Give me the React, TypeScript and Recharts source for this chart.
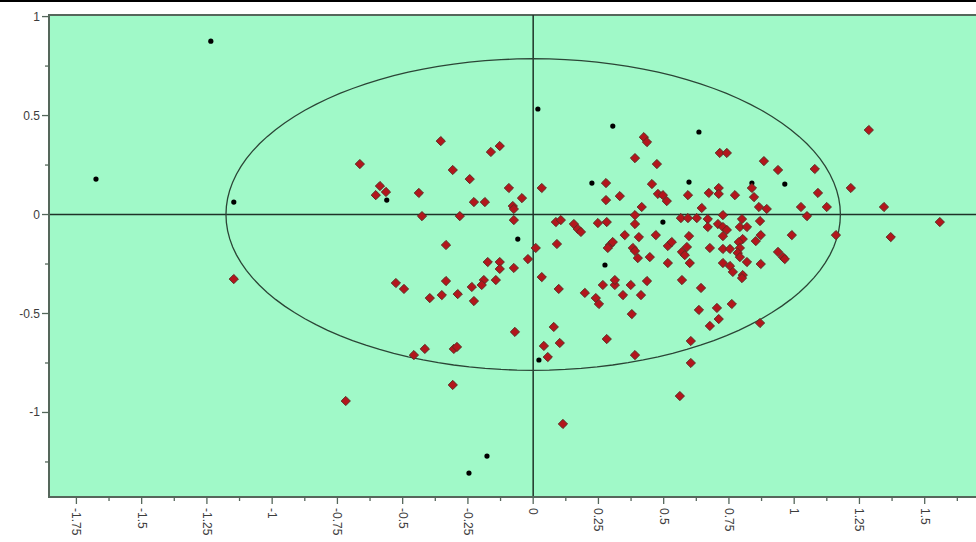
import React from 'react';
import { ScatterChart, Scatter, XAxis, YAxis, ReferenceArea, ReferenceLine } from 'recharts';

// Observations (red diamonds): [t1, t2]
const observations: [number, number][] = [
  [-0.354, 0.371], [-0.664, 0.255], [-0.162, 0.316], [-0.128, 0.346], [-0.308, 0.225], [-0.243, 0.179],
  [-0.587, 0.144], [-0.603, 0.098], [-0.564, 0.114], [-0.438, 0.109], [-0.093, 0.134], [0.033, 0.134],
  [-0.227, 0.063], [-0.185, 0.063], [-0.043, 0.083], [-0.078, 0.043], [-0.074, 0.028], [-0.426, -0.008],
  [-0.281, -0.008], [-0.074, -0.028], [0.087, -0.038], [-0.334, -0.154], [0.091, -0.149], [0.010, -0.169],
  [-0.020, -0.225], [-0.174, -0.240], [-0.128, -0.240], [-0.128, -0.275], [-0.074, -0.270], [0.033, -0.316],
  [-1.147, -0.326], [-0.526, -0.346], [-0.495, -0.376], [-0.334, -0.336], [-0.189, -0.331], [-0.143, -0.331],
  [-0.197, -0.356], [-0.235, -0.366], [-0.396, -0.422], [-0.350, -0.407], [-0.289, -0.402], [-0.227, -0.437],
  [0.098, -0.376], [0.106, -0.028], [0.156, -0.048], [0.171, -0.073], [0.183, -0.088], [0.248, -0.043],
  [0.282, -0.038], [0.198, -0.396], [0.240, -0.422], [0.252, -0.452], [0.267, -0.356], [0.313, -0.356],
  [0.313, -0.331], [0.374, -0.356], [0.344, -0.407], [0.413, -0.407], [0.436, -0.336], [0.570, -0.331],
  [0.378, -0.503], [0.635, -0.482], [-0.070, -0.593], [0.079, -0.568], [0.041, -0.664], [0.102, -0.649],
  [0.056, -0.720], [0.282, -0.629], [0.390, -0.710], [0.604, -0.639], [0.604, -0.750], [-0.457, -0.710],
  [-0.415, -0.679], [-0.304, -0.679], [-0.292, -0.669], [-0.308, -0.861], [-0.718, -0.942], [0.114, -1.058],
  [0.562, -0.917],
  [0.424, 0.391], [0.436, 0.366], [0.390, 0.285], [0.474, 0.255], [0.715, 0.311], [0.742, 0.311],
  [0.884, 0.270], [0.938, 0.225], [1.079, 0.230], [1.286, 0.427], [0.279, 0.159], [0.279, 0.073],
  [0.332, 0.093], [0.455, 0.154], [0.478, 0.104], [0.497, 0.098], [0.512, 0.068], [0.593, 0.098],
  [0.673, 0.109], [0.711, 0.134], [0.711, 0.104], [0.773, 0.098], [0.838, 0.134], [0.846, 0.088],
  [1.091, 0.109], [1.217, 0.134], [0.416, 0.038], [0.646, 0.033], [0.865, 0.038], [0.895, 0.028],
  [1.026, 0.038], [1.125, 0.038], [1.344, 0.038], [0.390, -0.003], [0.727, -0.003], [1.049, -0.008],
  [0.390, -0.048], [0.566, -0.018], [0.593, -0.018], [0.627, -0.018], [0.669, -0.023], [0.669, -0.063],
  [0.708, -0.048], [0.727, -0.063], [0.742, -0.078], [0.800, -0.023], [0.792, -0.063], [0.819, -0.063],
  [0.869, -0.033], [0.351, -0.104], [0.405, -0.114], [0.470, -0.104], [0.597, -0.109], [0.727, -0.109],
  [0.803, -0.124], [0.788, -0.139], [0.853, -0.134], [0.872, -0.104], [0.991, -0.104], [1.160, -0.104],
  [1.370, -0.114], [1.558, -0.038], [0.294, -0.154], [0.305, -0.139], [0.286, -0.169], [0.382, -0.169],
  [0.390, -0.184], [0.401, -0.220], [0.447, -0.215], [0.516, -0.159], [0.531, -0.139], [0.570, -0.189],
  [0.589, -0.164], [0.581, -0.205], [0.677, -0.169], [0.727, -0.174], [0.754, -0.174], [0.792, -0.169],
  [0.784, -0.194], [0.792, -0.215], [0.516, -0.245], [0.600, -0.245], [0.727, -0.245], [0.754, -0.260],
  [0.765, -0.290], [0.819, -0.240], [0.803, -0.306], [0.800, -0.321], [0.872, -0.250], [0.938, -0.189],
  [0.957, -0.215], [0.964, -0.225], [0.643, -0.371], [0.761, -0.452], [0.704, -0.472], [0.711, -0.528],
  [0.677, -0.563], [0.869, -0.548],
];

// Second set (small black dots)
const predictions: [number, number][] = [
  [-1.235, 0.876], [-1.675, 0.179], [-1.147, 0.063], [-0.561, 0.073], [0.018, 0.533], [0.305, 0.447],
  [0.635, 0.417], [0.225, 0.159], [0.597, 0.164], [0.838, 0.159], [0.964, 0.154], [-0.059, -0.124],
  [0.497, -0.038], [0.275, -0.255], [0.022, -0.735], [-0.177, -1.220], [-0.246, -1.306],
];

// Hotelling T2 ellipse semi-axes
const ELLIPSE_RX = 1.177;
const ELLIPSE_RY = 0.787;

const xTicks = [
  -1.75, -1.625, -1.5, -1.375, -1.25, -1.125, -1, -0.875, -0.75, -0.625, -0.5, -0.375, -0.25, -0.125,
  0, 0.125, 0.25, 0.375, 0.5, 0.625, 0.75, 0.875, 1, 1.125, 1.25, 1.375, 1.5, 1.625,
];
const yTicks = [-1.25, -1, -0.75, -0.5, -0.25, 0, 0.25, 0.5, 0.75, 1];

const X_DOMAIN: [number, number] = [-1.855, 1.8];
const Y_DOMAIN: [number, number] = [-1.427, 1.008];

const obsData = observations.map(([x, y]) => ({ x, y }));
const predData = predictions.map(([x, y]) => ({ x, y }));
const ellipseData = Array.from({ length: 121 }, (_, i) => {
  const t = (i / 120) * Math.PI * 2;
  return { x: ELLIPSE_RX * Math.cos(t), y: ELLIPSE_RY * Math.sin(t) };
});

const AXIS = '#55675b';
const LABEL = '#3c3c3c';
const FONT = 'Arial, "Liberation Sans", sans-serif';

const fmt = (v: number) => String(Number(v.toFixed(3)));

const XTick = (props: any) => {
  const { x, y, payload } = props;
  const v = payload.value as number;
  const major = Math.abs(v * 4 - Math.round(v * 4)) < 1e-6;
  const len = major ? 7 : 4;
  const ty = y + len + 4;
  return (
    <g>
      <line x1={x} y1={y} x2={x} y2={y + len} stroke={AXIS} strokeWidth={1.3} />
      {major && (
        <text
          x={x}
          y={ty}
          transform={`rotate(90, ${x}, ${ty})`}
          textAnchor="start"
          dominantBaseline="central"
          fontSize={12}
          fontFamily={FONT}
          fill={LABEL}
        >
          {fmt(v)}
        </text>
      )}
    </g>
  );
};

const YTick = (props: any) => {
  const { x, y, payload } = props;
  const v = payload.value as number;
  const major = Math.abs(v * 2 - Math.round(v * 2)) < 1e-6;
  const len = major ? 7 : 4;
  return (
    <g>
      <line x1={x - len} y1={y} x2={x} y2={y} stroke={AXIS} strokeWidth={1.3} />
      {major && (
        <text
          x={x - len - 2}
          y={y}
          textAnchor="end"
          dominantBaseline="central"
          fontSize={12}
          fontFamily={FONT}
          fill={LABEL}
        >
          {fmt(v)}
        </text>
      )}
    </g>
  );
};

const Diamond = (props: any) => {
  const { cx, cy } = props;
  const r = 4.6;
  return (
    <polygon
      points={`${cx},${cy - r} ${cx + r},${cy} ${cx},${cy + r} ${cx - r},${cy}`}
      fill="#b3161c"
      stroke="#5e2a22"
      strokeWidth={1}
    />
  );
};

const Dot = (props: any) => {
  const { cx, cy } = props;
  return <circle cx={cx} cy={cy} r={2.6} fill="#000" />;
};

const Nothing = () => <g />;

export default function App() {
  return (
    <div
      style={{
        position: 'absolute',
        left: 0,
        top: 0,
        width: 976,
        height: 542,
        overflow: 'hidden',
        background: '#fff',
      }}
    >
      <div style={{ position: 'absolute', left: 0, top: 0, width: 976, height: 2, background: '#000' }} />
      <ScatterChart width={1013} height={542} margin={{ top: 15, right: 10, bottom: 0, left: 0 }}>
        <ReferenceArea
          x1={X_DOMAIN[0]}
          x2={X_DOMAIN[1]}
          y1={Y_DOMAIN[0]}
          y2={Y_DOMAIN[1]}
          fill="#a0f9c8"
          fillOpacity={1}
          stroke={AXIS}
          strokeWidth={2}
          ifOverflow="visible"
        />
        <XAxis
          type="number"
          dataKey="x"
          domain={X_DOMAIN}
          allowDataOverflow
          ticks={xTicks}
          interval={0}
          tick={<XTick />}
          tickLine={false}
          tickSize={0}
          tickMargin={0}
          height={45}
          stroke={AXIS}
          strokeWidth={2}
        />
        <YAxis
          type="number"
          dataKey="y"
          domain={Y_DOMAIN}
          allowDataOverflow
          ticks={yTicks}
          interval={0}
          tick={<YTick />}
          tickLine={false}
          tickSize={0}
          tickMargin={0}
          width={49}
          stroke={AXIS}
          strokeWidth={2}
        />
        <ReferenceLine y={0} stroke="#1f3328" strokeWidth={1.5} />
        <ReferenceLine x={0} stroke="#1f3328" strokeWidth={1.5} />
        <Scatter
          data={ellipseData}
          line={{ stroke: '#2b4536', strokeWidth: 1.3 }}
          shape={<Nothing />}
          isAnimationActive={false}
        />
        <Scatter data={predData} shape={<Dot />} isAnimationActive={false} />
        <Scatter data={obsData} shape={<Diamond />} isAnimationActive={false} />
      </ScatterChart>
    </div>
  );
}
